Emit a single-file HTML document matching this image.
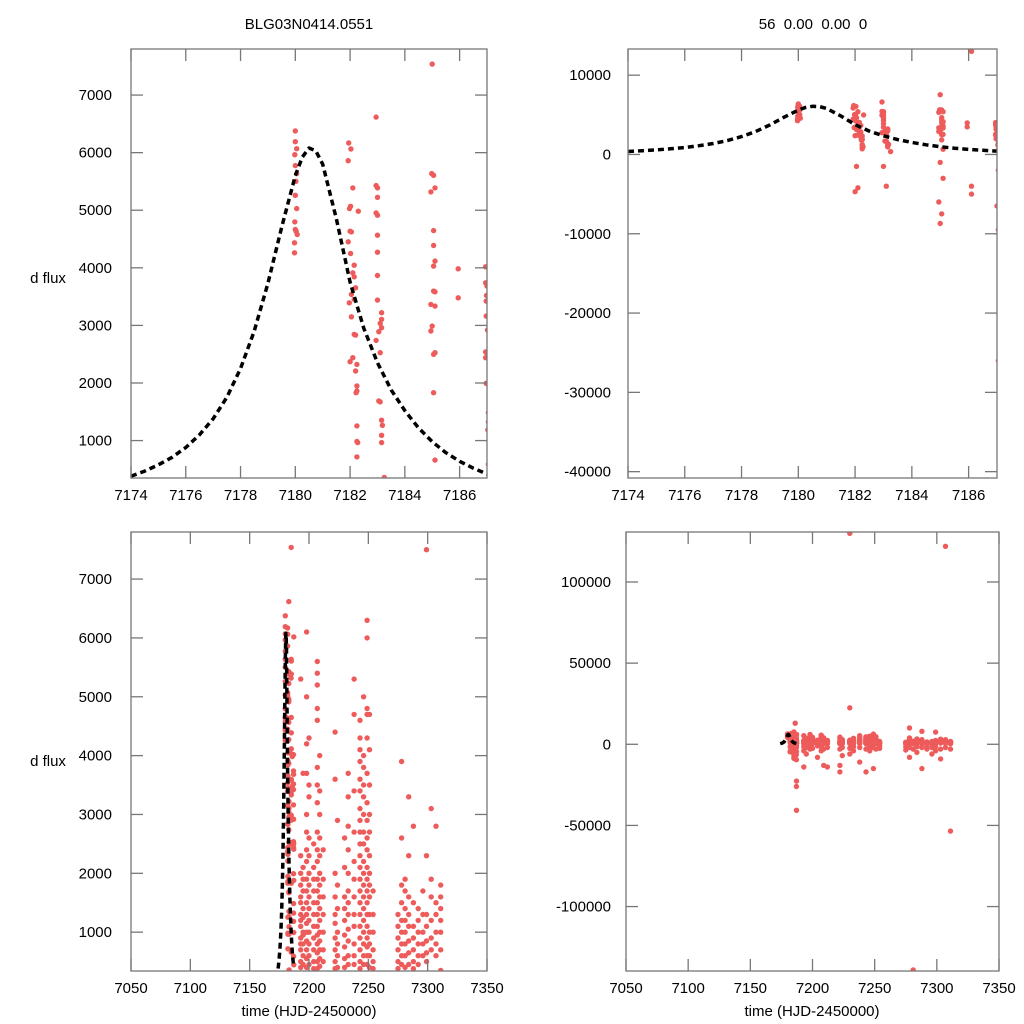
<!DOCTYPE html>
<html><head><meta charset="utf-8"><style>
html,body{margin:0;padding:0;background:#fff;width:1024px;height:1024px;overflow:hidden}
svg{display:block;font-family:"Liberation Sans",sans-serif}
</style></head><body>
<svg id="chart" width="1024" height="1024" viewBox="0 0 1024 1024" xmlns="http://www.w3.org/2000/svg">
<text x="309" y="29" text-anchor="middle" font-size="15">BLG03N0414.0551</text>
<text x="813" y="29" text-anchor="middle" font-size="15" xml:space="preserve">56  0.00  0.00  0</text>
<text x="48" y="283" text-anchor="middle" font-size="15">d flux</text>
<text x="48" y="766" text-anchor="middle" font-size="15">d flux</text>
<text x="309" y="1016" text-anchor="middle" font-size="15">time (HJD-2450000)</text>
<text x="812" y="1016" text-anchor="middle" font-size="15">time (HJD-2450000)</text>
</svg>
<script>
// model curve (sampled)
const modelT = [7174,7174.5,7175,7175.5,7176,7176.5,7177,7177.5,7178,7178.5,7179,7179.5,7180,7180.25,7180.5,7180.75,7181,7181.5,7182,7182.5,7183,7183.5,7184,7184.5,7185,7185.5,7186,7186.5,7187];
const modelV = [380,470,580,710,880,1100,1380,1750,2250,2900,3730,4700,5600,5920,6080,6030,5800,4850,3750,2950,2350,1880,1520,1220,980,790,640,520,420];
// short-range observations
const shortT = [7180,7180,7180.05,7179.98,7180,7180.05,7180.02,7180,7180.05,7179.98,7180,7180.03,7180.07,7179.97,7179.97,
7181.95,7182.03,7181.93,7182.1,7182.02,7181.98,7182.3,7182,7182.05,7181.93,7182.02,7182.15,7182.1,7182.15,7182.2,7182.05,7182.15,7181.97,7182.05,7182.15,7182.2,7182.1,7182.0,7182.25,7182.2,7182.25,7182.25,7182.22,7182.25,7182.25,7182.28,7182.25,
7182.95,7182.95,7183,7183,7182.95,7183,7183,7183,7183,7183,7183.15,7183.15,7183.1,7183.15,7183.05,7182.95,7183.1,7183.1,7183.05,7183.15,7183.18,7183.15,7183.15,7183.25,
7185,7184.98,7185.05,7185.1,7184.95,7185.05,7185.05,7185.1,7185.05,7185.05,7185.1,7184.95,7185.1,7185.0,7184.95,7185.05,7185.1,7185.05,7185.1,
7185.95,7185.95,
7187.2,7186.95,7186.95,7187,7186.98,7186.97,7186.97,7187.02,7186.95,7187.0,7187.05,7186.95,7187.1,7186.97,7187.15,7187.05,7187.05,7187.03,7187.2,7187.05,7187.15,
7182,7182.1,7182.05,7183.1,7183,7185,7185.05,7184.95,7185.1,7185,7186.1,7186.1,7187.1,7187.15,7187.05,7187.0,7187.1,7187.05,7187.1,7186.1,7187.05];
const shortV = [6376,6191,6069,5965,5775,5636,5503,5260,5029,4798,4665,4636,4578,4434,4260,
6168,6064,5861,5387,5069,5029,4983,4636,4624,4451,4249,4046,3913,3844,3653,3538,3451,3393,3150,2844,2832,2439,2369,2323,2208,1948,1861,1832,1254,983,965,717,
6618,5428,5387,5225,4954,4913,4566,4272,3867,3439,3220,3104,3035,2960,2890,2740,2526,1671,1688,1353,1266,1092,965,358,
7538,5636,5607,5387,5318,4647,4387,4116,4029,3595,3584,3364,3335,2988,2902,2497,2526,1832,660,
3983,3480,
6017,4017,3740,3682,3520,3422,3162,2919,2538,2514,2497,2439,2410,1994,1879,1486,1324,1185,994,590,445,
-4700,-4200,-1500,-4000,-1500,-8700,-7500,-6000,-3000,-1000,-4000,-5000,-22700,-40700,-9500,-6500,-4500,-2000,-1000,13000,-26000];
// long-range observation columns
const longT = [7193,7195,7198,7200,7204,7207,7209,7212,7222,7224,7230,7233,7238,7243,7246,7249,7251,7254,7275,7278,7281,7284,7288,7292,7296,7299,7303,7307,7311];
const longV = [
[5300,2300,2000,1800,1500,1300,1100,900,700,500,1600,1200,800,400,-1500,-4000,-14000],
[3700,2100,1900,1700,1400,1000,800,600,450,1250,950,-2000,-6000],
[6100,5000,4200,3700,3000,2700,2400,2200,1900,1700,1500,1300,1150,1000,850,700,550,400,-1000,-3000],
[4300,3500,3300,2600,2300,2000,1800,1600,1400,1200,1000,800,600,450,-2500],
[2500,2100,1900,1700,1500,1300,1100,900,700,500,380,-8000,-1000],
[5600,5400,5200,4800,4600,3800,3500,3200,2700,2400,2200,1900,1700,1500,1300,1100,950,800,650,500,380,-1500,-4000],
[4000,3400,3000,2600,2300,2000,1800,1600,1400,1200,1000,850,700,550,420,-13000,-3000],
[2400,1900,1600,1300,1000,700,500,-14000,-2000],
[4400,3600,2000,1600,1300,1150,900,700,500,380,-17000,-13000,-3000],
[2900,1800,1400,1000,800,600,400,-7000,-2000],
[2600,2100,1600,1400,1200,950,750,550,400,22500,130000,-2500,-6000],
[3700,3300,2800,2400,2000,1700,1500,1300,1050,850,600,450,-1500,-4000],
[5300,4700,3400,2700,2200,1900,1600,1300,1100,800,600,450,-11000,-2000],
[4600,4300,4100,3900,3600,3400,3100,2900,2700,2500,2300,2100,1900,1700,1500,1300,1100,900,700,500,380,-17000,-3000],
[5000,4000,3800,3500,3300,3000,2700,2500,2200,2000,1800,1600,1400,1200,1000,800,600,450,-1500,-4000],
[6300,6000,4800,4700,4300,3700,3200,2900,2600,2400,2100,1900,1700,1500,1300,1100,900,750,600,450,-15000,-2000],
[4700,4100,3500,3000,2700,2300,2000,1800,1600,1300,1000,800,600,400,-3000],
[1700,1300,1000,700,500,380,-1000,-2500],
[1300,1100,900,700,500,380,-1500,-3500],
[3900,2600,1800,1500,1200,1000,800,600,450,10000,-2000,-8000],
[1900,1700,1400,1200,1000,800,600,400,-139000,-3000],
[3300,2300,1600,1300,1100,850,650,450,-1500,-5000],
[2800,1500,1100,900,700,500,380,8000,-15000,-2000],
[1400,1200,1000,800,600,450,-1000,-3000],
[1700,1300,1000,800,600,-2000,-6000],
[2300,1300,1100,850,650,500,7500,-1500,-4000],
[3100,1900,1600,1200,900,700,-3000,-9000],
[2800,1500,1300,1000,800,600,122000,-2000],
[1800,1600,1400,1200,1000,700,350,-53500,-3000]];

const NS='http://www.w3.org/2000/svg';
const svg=document.getElementById('chart');
function mk(tag,attrs,parent){const e=document.createElementNS(NS,tag);for(const k in attrs)e.setAttribute(k,attrs[k]);(parent||svg).appendChild(e);return e;}

const panels=[
 {id:'top-left',x0:131,x1:487,y0:49,y1:478,tmin:7174,tmax:7187,vmin:350,vmax:7800,xt:[7174,7176,7178,7180,7182,7184,7186],yt:[1000,2000,3000,4000,5000,6000,7000],long:false,lx:112},
 {id:'top-right',x0:628,x1:997,y0:49,y1:478,tmin:7174,tmax:7187,vmin:-40800,vmax:13300,xt:[7174,7176,7178,7180,7182,7184,7186],yt:[-40000,-30000,-20000,-10000,0,10000],long:false,lx:611},
 {id:'bottom-left',x0:131,x1:487,y0:532,y1:971,tmin:7050,tmax:7350,vmin:340,vmax:7800,xt:[7050,7100,7150,7200,7250,7300,7350],yt:[1000,2000,3000,4000,5000,6000,7000],long:true,lx:112},
 {id:'bottom-right',x0:626,x1:999,y0:532,y1:971,tmin:7050,tmax:7350,vmin:-139700,vmax:130800,xt:[7050,7100,7150,7200,7250,7300,7350],yt:[-100000,-50000,0,50000,100000],long:true,lx:611}
];

panels.forEach((p,i)=>{
 const X=t=>p.x0+(t-p.tmin)/(p.tmax-p.tmin)*(p.x1-p.x0);
 const Y=v=>p.y1-(v-p.vmin)/(p.vmax-p.vmin)*(p.y1-p.y0);
 const g=mk('g',{});
 
 
 const cp=mk('clipPath',{id:'cp'+i},g);
 mk('rect',{x:p.x0,y:p.y0,width:p.x1-p.x0,height:p.y1-p.y0},cp);
 const pts=mk('g',{'clip-path':'url(#cp'+i+')',fill:'#ee5b5b'},g);
 
 
 const dt=(p.tmax-p.tmin)*0.01, dv=(p.vmax-p.vmin)*0.01;
 const addPt=(t,v)=>{
  if(t<p.tmin-dt||t>p.tmax+dt||v<p.vmin-dv||v>p.vmax+dv) return;
  const c=mk('circle',{cx:X(t).toFixed(1),cy:Y(v).toFixed(1),r:2.7},pts);
  
  };
 shortT.forEach((t,k)=>addPt(t,shortV[k]));
 if(p.long){longT.forEach((t,k)=>longV[k].forEach(v=>addPt(t,v)));}
 const d=modelT.map((t,k)=>(k?'L':'M')+X(t).toFixed(1)+','+Y(modelV[k]).toFixed(1)).join(' ');
 const ln=mk('path',{d:d,fill:'none',stroke:'#000','stroke-width':3.5,'stroke-dasharray':'6,4','stroke-linejoin':'round','clip-path':'url(#cp'+i+')'},g);
 
 
 const fr=mk('rect',{x:p.x0,y:p.y0,width:p.x1-p.x0,height:p.y1-p.y0,fill:'none',stroke:'#777','stroke-width':1.3},g);
 
 
 p.xt.forEach(t=>{const x=X(t);
  mk('line',{x1:x,x2:x,y1:p.y1,y2:p.y1-12,stroke:'#777','stroke-width':1.3},g);
  mk('line',{x1:x,x2:x,y1:p.y0,y2:p.y0+12,stroke:'#777','stroke-width':1.3},g);
  const tx=mk('text',{x:x,y:p.y1+22,'text-anchor':'middle','font-size':15},g);tx.textContent=t;
  
  });
 p.yt.forEach(v=>{const y=Y(v);
  mk('line',{x1:p.x0,x2:p.x0+12,y1:y,y2:y,stroke:'#777','stroke-width':1.3},g);
  mk('line',{x1:p.x1,x2:p.x1-12,y1:y,y2:y,stroke:'#777','stroke-width':1.3},g);
  const tx=mk('text',{x:p.lx,y:y+5,'text-anchor':'end','font-size':15},g);tx.textContent=v;
  
  });
});
</script>
</body></html>
